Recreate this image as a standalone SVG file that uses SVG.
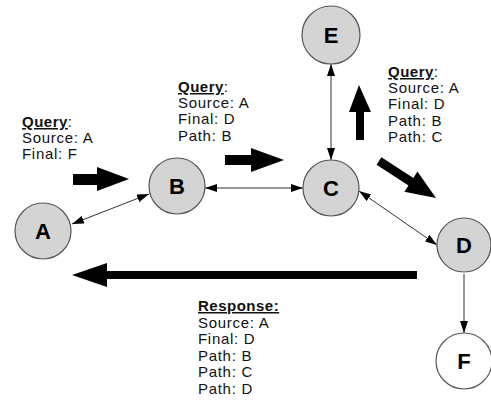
<svg xmlns="http://www.w3.org/2000/svg" width="491" height="411" viewBox="0 0 491 411">
<style>
.node circle{fill:#d4d4d4;stroke:#555;stroke-width:1.2}
.node.white circle{fill:#fff}
.node text{font-family:"Liberation Sans",Arial,sans-serif;font-weight:bold;font-size:22px;text-anchor:middle;fill:#000}
.lbl{font-family:"Liberation Sans",Arial,sans-serif;font-size:15px;fill:#111;letter-spacing:0.7px}
.hd{font-weight:bold;text-decoration:underline;letter-spacing:0.5px}
.conn line{stroke:#333;stroke-width:1}
.big{fill:#000}
</style>
<defs>
<marker id="ah" viewBox="0 0 12 8" refX="12" refY="4" markerWidth="12" markerHeight="8" markerUnits="userSpaceOnUse" orient="auto-start-reverse">
<path d="M0,0 L12,4 L0,8 Z" fill="#000"/>
</marker>
</defs>
<rect width="491" height="411" fill="#fff"/>
<g id="connectors" class="conn">
<line x1="72" y1="224" x2="149" y2="194" marker-start="url(#ah)" marker-end="url(#ah)"/>
<line x1="205" y1="188" x2="303" y2="188" marker-start="url(#ah)" marker-end="url(#ah)"/>
<line x1="331" y1="64" x2="331" y2="160" marker-start="url(#ah)" marker-end="url(#ah)"/>
<line x1="359" y1="191" x2="437" y2="245" marker-start="url(#ah)" marker-end="url(#ah)"/>
<line x1="464" y1="274" x2="464" y2="333" marker-end="url(#ah)"/>
</g>
<g id="flow-arrows" class="big">
<polygon points="73,174 97,174 97,167 129,179 97,191 97,185 73,185"/>
<polygon points="225,155 251,155 251,148 284,160 251,172 251,165 225,165"/>
<polygon points="356,140 356,112 349,112 359,85 371,112 364,112 364,140"/>
<polygon points="381.4,157.2 413.4,177.9 417.4,171.6 436,198 404.4,191.8 408.5,185.5 376.6,164.8"/>
<polygon points="417,271 107,271 107,263 72,275 107,287 107,279 417,279"/>
</g>
<g id="node-A" class="node"><circle cx="43" cy="231" r="28"/><text x="43" y="239">A</text></g>
<g id="node-B" class="node"><circle cx="177" cy="186" r="28"/><text x="177" y="194">B</text></g>
<g id="node-C" class="node"><circle cx="331" cy="188" r="28"/><text x="331" y="196">C</text></g>
<g id="node-E" class="node"><circle cx="331" cy="35" r="29"/><text x="331" y="43">E</text></g>
<g id="node-D" class="node"><circle cx="464" cy="245" r="27"/><text x="464" y="253">D</text></g>
<g id="node-F" class="node white"><circle cx="464" cy="361" r="28"/><text x="464" y="369">F</text></g>
<g id="label-query1" class="lbl">
<text x="22" y="127"><tspan class="hd">Query</tspan>:</text>
<text x="22" y="143">Source: A</text>
<text x="22" y="159">Final: F</text>
</g>
<g id="label-query2" class="lbl">
<text x="178" y="92"><tspan class="hd">Query</tspan>:</text>
<text x="178" y="108">Source: A</text>
<text x="178" y="124">Final: D</text>
<text x="178" y="141">Path: B</text>
</g>
<g id="label-query3" class="lbl">
<text x="388" y="77"><tspan class="hd">Query</tspan>:</text>
<text x="388" y="93">Source: A</text>
<text x="388" y="109">Final: D</text>
<text x="388" y="126">Path: B</text>
<text x="388" y="142">Path: C</text>
</g>
<g id="label-response" class="lbl">
<text x="198" y="311" class="hd">Response:</text>
<text x="198" y="328">Source: A</text>
<text x="198" y="344">Final: D</text>
<text x="198" y="361">Path: B</text>
<text x="198" y="377">Path: C</text>
<text x="198" y="394">Path: D</text>
</g>
</svg>
